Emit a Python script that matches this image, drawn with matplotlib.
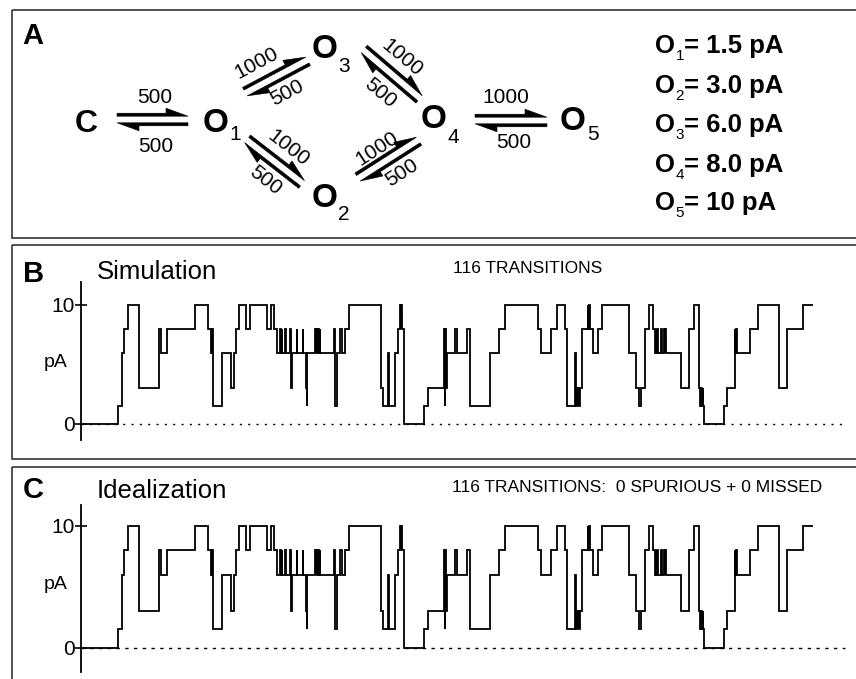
import numpy as np
import matplotlib.pyplot as plt
from matplotlib.patches import Polygon, Rectangle

plt.rcParams['font.family'] = ['Liberation Sans', 'DejaVu Sans']

# ===== DATA =====
# kinetic scheme: links, forward / backward rates (s^-1)
links = [('C', 'O1'), ('O1', 'O3'), ('O1', 'O2'), ('O3', 'O4'), ('O2', 'O4'), ('O4', 'O5')]
k_fwd = [500, 1000, 1000, 1000, 1000, 1000]
k_back = [500, 500, 500, 500, 500, 500]

# conductance levels of the open states
open_names = ['1', '2', '3', '4', '5']
open_text = ['1.5 pA', '3.0 pA', '6.0 pA', '8.0 pA', '10 pA']

# simulated single channel record: change times (ms) and current (pA)
t_ms = [0.00, 3.65, 4.05, 4.35, 4.70, 5.80, 7.80, 7.95, 8.60, 11.40,
        12.73, 13.05, 13.12, 13.18, 13.23, 14.10, 15.00, 15.33, 15.50, 15.83,
        16.47, 16.90, 18.57, 18.97, 19.30, 19.57, 19.90, 19.97, 20.05, 20.13,
        20.40, 20.47, 20.90, 20.97, 21.02, 21.10, 21.57, 21.63, 22.17, 22.23,
        22.50, 22.55, 22.65, 23.40, 23.46, 23.54, 23.60, 23.70, 23.76, 23.85,
        23.93, 25.27, 25.35, 25.43, 25.55, 25.63, 25.93, 26.10, 26.43, 26.83,
        30.00, 30.20, 30.73, 30.80, 31.40, 31.70, 31.90, 31.97, 32.03, 32.10,
        32.33, 34.33, 34.73, 36.35, 36.40, 36.45, 36.50, 36.57, 37.40, 37.57,
        38.57, 38.93, 40.93, 41.85, 42.40, 45.73, 46.00, 46.95, 47.65, 48.40,
        48.65, 49.40, 49.47, 49.60, 49.67, 49.75, 49.82, 49.90, 50.15, 50.67,
        50.75, 50.82, 50.90, 51.17, 51.67, 52.10, 54.77, 55.50, 55.85, 55.97,
        56.40, 56.77, 57.23, 57.43, 57.48, 57.55, 57.62, 57.69, 58.00, 58.07,
        58.30, 58.37, 58.45, 58.52, 60.00, 60.85, 61.30, 61.85, 61.95, 62.02,
        62.10, 62.18, 62.25, 62.33, 64.35, 64.65, 65.38, 65.45, 65.52, 65.60,
        66.88, 67.72, 69.80, 70.60, 72.22, 73.20]
i_pa = [0, 1.5, 6, 8, 10, 3, 8, 6, 8, 10,
        8, 6, 8, 6, 1.5, 6, 3, 6, 8, 10,
        8, 10, 8, 10, 8, 6, 8, 6, 8, 6,
        8, 6, 8, 6, 3, 6, 8, 6, 8, 6,
        3, 1.5, 6, 8, 6, 8, 6, 8, 6, 8,
        6, 8, 3, 1.5, 3, 6, 8, 6, 8, 10,
        3, 1.5, 6, 1.5, 6, 8, 10, 8, 10, 8,
        0, 1.5, 3, 8, 1.5, 8, 3, 6, 8, 6,
        8, 1.5, 6, 8, 10, 8, 6, 8, 10, 8,
        1.5, 6, 1.5, 3, 1.5, 3, 1.5, 3, 8, 10,
        8, 10, 8, 6, 8, 10, 6, 3, 1.5, 3,
        8, 10, 8, 6, 8, 6, 8, 6, 8, 6,
        8, 6, 8, 6, 3, 8, 10, 3, 1.5, 3,
        1.5, 3, 1.5, 0, 1.5, 3, 8, 6, 8, 6,
        8, 10, 3, 8, 10]
n_trans = 116
n_spurious = 0
n_missed = 0

# ===== LAYOUT (pixel coords of the 856x679 canvas) =====
W, H = 856, 679
# state glyphs: (left, baseline) of big letter, (left, baseline) of subscript
node_txt = {'C': ((75, 132.5), None),
            'O1': ((203, 131.7), (229.5, 140)),
            'O3': ((311.7, 58.3), (338, 71.7)),
            'O2': ((311.7, 206.7), (338, 220)),
            'O4': ((421, 128.3), (448, 143)),
            'O5': ((560, 130), (587, 140))}
# centre lines of the double arrows
arrow_line = [((117, 119.5), (188, 119.5)),
              ((245.5, 93), (307.5, 60)),
              ((246.7, 140), (302.5, 183.3)),
              ((363.3, 50), (420, 98.3)),
              ((358.3, 178.3), (418.3, 140)),
              ((475, 120.5), (547, 120.5))]
# rate label centres: (x, y) forward, (x, y) back, rotation
rate_pos = [((155, 97.5), (155.5, 146.5), 0),
            ((256.7, 63.3), (286.7, 93.3), 28),
            ((288.3, 148.3), (265, 180), -38),
            ((401.7, 58.3), (380, 93.3), -40),
            ((376.7, 148.3), (401.7, 173.3), 33),
            ((506, 97.5), (514, 142.5), 0)]
legend_base = [53, 92.7, 132, 172, 210]


def harpoon(ax, p, q, sep=4.8, t=3.0, L=22, h=5):
    p, q = np.array(p, float), np.array(q, float)
    u = (q - p) / np.linalg.norm(q - p)
    n = np.array([u[1], -u[0]])      # left of travel (y axis points down)
    p = p + sep * n
    q = q + sep * n
    pts = [p - t / 2 * n, q - t / 2 * n, q - L * u + (t / 2 + h) * n,
           q - L * u + t / 2 * n, p + t / 2 * n]
    ax.add_patch(Polygon(pts, closed=True, fc='black', ec='black', lw=0.4))


fig = plt.figure(figsize=(W / 100, H / 100), dpi=100)
ax0 = fig.add_axes([0, 0, 1, 1])
ax0.set_xlim(0, W)
ax0.set_ylim(H, 0)
ax0.axis('off')

# panel frames
for (y0, y1) in [(10, 238), (245, 459), (466.5, 700)]:
    ax0.add_patch(Rectangle((12, y0), 850, y1 - y0, fill=False, ec='#333333', lw=1.2))

# ----- panel A: kinetic scheme -----
ax0.text(22.7, 43.5, 'A', fontsize=21, fontweight='bold', va='baseline')
for name, (main, sub) in node_txt.items():
    ax0.text(main[0], main[1], name[0], fontsize=24 if name != 'C' else 23,
             fontweight='bold', va='baseline')
    if sub is not None:
        ax0.text(sub[0], sub[1], name[1:], fontsize=15, va='baseline')

for (a, b), kf, kb, (p, q), (pf, pb, rot) in zip(links, k_fwd, k_back, arrow_line, rate_pos):
    harpoon(ax0, p, q)
    harpoon(ax0, q, p)
    for pos, k in [(pf, kf), (pb, kb)]:
        ax0.text(pos[0], pos[1], str(k), fontsize=15, ha='center', va='center',
                 rotation=rot, rotation_mode='anchor')

for nm, txt, yb in zip(open_names, open_text, legend_base):
    ax0.text(655, yb, 'O', fontsize=18.5, fontweight='bold', va='baseline')
    ax0.text(675.5, yb + 7, nm, fontsize=11, va='baseline')
    ax0.text(684, yb, '= ' + txt, fontsize=18.5, fontweight='bold', va='baseline')

# ----- panels B and C: current records -----
panels = [
    dict(letter='B', title='Simulation', note=f'{n_trans} TRANSITIONS',
         top=282.4, bot=440, ylim=(-1.35, 11.9), ls=(0, (1.5, 4.5)),
         ybase=281.5, note_x=453.3, note_base=272.7, title_base=279.3),
    dict(letter='C', title='Idealization',
         note=f'{n_trans} TRANSITIONS:  {n_spurious} SPURIOUS + {n_missed} MISSED',
         top=505, bot=671.7, ylim=(-1.97, 11.70), ls=(0, (2.4, 3.9)),
         ybase=498, note_x=451.7, note_base=491.7, title_base=498),
]

for pn in panels:
    ax = fig.add_axes([81 / W, 1 - pn['bot'] / H, 769 / W, (pn['bot'] - pn['top']) / H])
    ax.set_facecolor('none')
    ax.stairs(i_pa, t_ms, baseline=None, color='black', lw=1.3)
    ax.plot([0, 76.4], [0, 0], color='black', lw=1.0, ls=pn['ls'])
    ax.set_xlim(0, 76.9)
    ax.set_ylim(*pn['ylim'])
    for s in ['top', 'right', 'bottom']:
        ax.spines[s].set_visible(False)
    ax.spines['left'].set_linewidth(1.3)
    ax.set_xticks([])
    ax.set_yticks([0, 10])
    ax.tick_params(axis='y', direction='inout', length=8, width=1.2, labelsize=15, pad=0.5)
    ax.text(-0.018, 5.2, 'pA', transform=ax.get_yaxis_transform(), fontsize=14,
            ha='right', va='center')

    ax0.text(23, pn['ybase'], pn['letter'], fontsize=21, fontweight='bold', va='baseline')
    ax0.text(96.7, pn['title_base'], pn['title'], fontsize=18.5, va='baseline')
    ax0.text(pn['note_x'], pn['note_base'], pn['note'], fontsize=12.5, va='baseline')

fig.savefig('out.png', dpi=100)
